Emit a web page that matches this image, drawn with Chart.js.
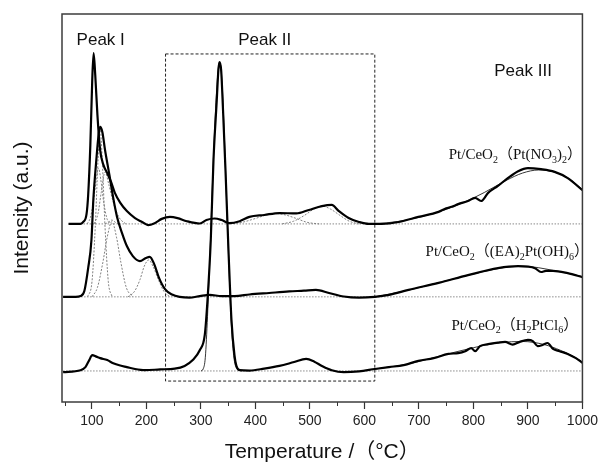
<!DOCTYPE html>
<html>
<head>
<meta charset="utf-8">
<script src="https://cdn.jsdelivr.net/npm/chart.js@4"></script>
<style>
  html, body { margin: 0; padding: 0; background: #fff; }
</style>
</head>
<body>
<canvas id="myChart" width="602" height="468"></canvas>
<script>
// axis
var majorTicks = [100, 200, 300, 400, 500, 600, 700, 800, 900, 1000];
var minorTicks = [50, 150, 250, 350, 450, 550, 650, 750, 850, 950];

// Pt/CeO2 (Pt(NO3)2) - top trace
var nitrateT = [57, 79, 84, 90, 93, 97, 100.5, 103, 106, 110, 115, 121, 128, 135, 142, 152, 164, 179, 192, 203, 215, 228, 243, 257, 274, 298, 310, 325, 338, 352, 371, 389, 416, 444, 475, 498, 522, 540, 553, 571, 590, 608, 632, 663, 699, 736, 750, 760, 772, 790, 803, 814, 827, 845, 863, 882, 900, 924, 949, 973, 1000];
var nitrateI = [45.9, 45.9, 46.4, 48.4, 53.3, 66.2, 83.0, 89.9, 84.3, 74.0, 64.9, 61.1, 59.0, 56.7, 53.9, 51.3, 49.2, 47.4, 46.4, 45.6, 46.1, 47.2, 47.7, 47.4, 46.6, 46.0, 46.9, 47.3, 46.9, 46.1, 46.6, 47.7, 48.2, 48.7, 48.6, 49.5, 50.5, 50.8, 49.2, 47.4, 46.4, 45.9, 45.9, 46.4, 47.7, 49.0, 49.9, 50.3, 51.0, 51.8, 52.6, 51.8, 53.9, 55.7, 57.7, 59.5, 60.3, 60.0, 59.3, 57.7, 54.6];

// Pt/CeO2 ((EA)2Pt(OH)6) - middle trace
var eaT = [47, 70, 79, 86, 93, 99, 102.5, 108, 112.5, 115, 119, 124, 132, 139, 146, 155, 164, 175, 188, 199, 206, 214, 223, 234, 247, 261, 279, 298, 316, 338, 362, 389, 425, 462, 489, 511, 535, 562, 590, 619, 645, 681, 736, 790, 845, 882, 900, 913, 924, 933, 946, 973, 1000];
var eaI = [27.1, 27.1, 27.3, 28.6, 34.5, 41.7, 52.1, 62.4, 69.3, 70.9, 69.6, 64.9, 58.5, 52.6, 47.7, 43.6, 40.2, 37.6, 36.3, 37.1, 37.4, 35.6, 32.0, 29.1, 27.7, 27.1, 26.9, 27.3, 27.6, 27.3, 27.3, 27.7, 28.1, 28.5, 28.7, 28.9, 28.1, 27.2, 26.9, 27.1, 27.6, 28.9, 30.7, 32.7, 34.5, 35.0, 34.9, 34.5, 33.5, 33.8, 33.8, 33.2, 32.2];

// Pt/CeO2 (H2PtCl6) - bottom trace
var chlorT = [47, 79, 88, 95, 100.5, 108, 115, 128, 139, 152, 164, 179, 197, 225, 252, 270, 285, 298, 307, 312, 318, 323, 329, 332, 334, 337, 340.5, 345, 350.5, 356, 361.5, 365, 371, 389, 416, 444, 471, 493, 508, 522, 540, 562, 590, 619, 645, 672, 699, 727, 754, 772, 785, 796, 803, 812, 827, 845, 858, 872, 885, 900, 909, 918, 927, 936, 946, 958, 973, 988, 1000];
var chlorI = [7.7, 8.2, 9.0, 10.8, 12.1, 11.7, 11.3, 10.8, 10.0, 9.4, 9.0, 8.5, 8.2, 8.4, 8.6, 9.3, 10.8, 13.4, 17.3, 26.3, 41.7, 62.4, 77.8, 85.6, 87.6, 85.6, 75.2, 59.8, 39.1, 21.1, 12.1, 9.3, 8.2, 8.1, 8.6, 9.3, 10.3, 11.1, 10.4, 9.3, 8.2, 7.7, 7.9, 8.5, 9.0, 9.5, 10.6, 11.3, 12.4, 12.6, 13.1, 13.9, 13.1, 14.4, 14.9, 15.3, 15.5, 14.8, 15.5, 16.0, 15.7, 14.4, 14.7, 15.2, 13.7, 13.1, 12.4, 11.3, 10.1];

// fitted envelopes (thin solid)
var fitPeak2T = [300, 304, 308, 312, 316, 320, 325, 330, 334, 338, 342, 346, 350, 355, 360, 366, 375];
var fitPeak2I = [8.0, 8.5, 11.5, 22, 36, 52, 70, 83, 87.6, 84, 72, 56, 40, 22, 12, 8.6, 8.0];
var fitHighNitrateT = [620, 660, 700, 740, 780, 820, 860, 890, 920, 950, 975, 1000];
var fitHighNitrateI = [45.9, 46.5, 47.6, 49.2, 51.3, 54.0, 57.1, 59.0, 59.8, 59.2, 57.6, 54.8];
var fitHighEaT = [620, 680, 740, 800, 850, 890, 920, 950, 980, 1000];
var fitHighEaI = [27.1, 28.8, 30.9, 33.0, 34.5, 35.0, 34.6, 33.8, 33.0, 32.3];
var fitHighChlorT = [620, 680, 740, 800, 850, 890, 930, 960, 985, 1000];
var fitHighChlorI = [8.5, 9.8, 11.9, 14.0, 15.3, 15.6, 14.8, 13.3, 11.6, 10.3];

// deconvoluted components (dotted)
var compAT = [91, 97, 103, 108, 112, 116, 121, 127, 133];
var compAI = [45.9, 47.5, 52, 57.5, 60.3, 57.5, 52, 47.5, 45.9];
var compBT = [104, 111, 117, 124, 131, 140, 150, 162];
var compBI = [45.9, 48.5, 54, 59.3, 56, 51, 47.5, 45.9];
var compCT = [124, 130, 136.5, 143, 150];
var compCI = [45.9, 46.3, 46.9, 46.3, 45.9];
var compDT = [352, 375, 400, 420, 437, 455, 475, 495, 517];
var compDI = [45.9, 46.3, 47.3, 48.2, 48.6, 48.2, 47.3, 46.3, 45.9];
var compET = [449, 470, 490, 507, 522, 538, 555, 572, 590];
var compEI = [45.9, 46.6, 48.1, 49.7, 50.5, 49.7, 48.1, 46.6, 45.9];
var compM1T = [92, 100, 106, 111, 115, 119, 124, 130, 137];
var compM1I = [27.1, 31, 45, 62, 70.5, 62, 45, 31, 27.1];
var compM2T = [100, 110, 120, 128, 136.5, 145, 153, 163, 175];
var compM2I = [27.1, 29.5, 36, 42.5, 46.5, 42.5, 36, 29.5, 27.1];
var compM3T = [166, 178, 188, 196, 204, 212, 222, 232, 243];
var compM3I = [27.1, 28.5, 31.5, 35, 36.6, 35, 31.5, 28.5, 27.1];

// baselines
var baseStartT = [57, 47, 47];
var baseLevel = [45.9, 27.1, 8.0];

// Peak II box
var boxT = [235, 619, 619, 235, 235];
var boxI = [89.7, 89.7, 5.4, 5.4, 89.7];

// labels
var peakNames = ['Peak I', 'Peak II', 'Peak III'];
var peakLabelT = [116, 417, 891];
var peakLabelI = [93.2, 93.2, 85.3];
var sampleLabels = [
    [['Pt/CeO', 0], ['2', 1], ['\uFF08Pt(NO', 0], ['3', 1], [')', 0], ['2', 1], ['\uFF09', 0]],
    [['Pt/CeO', 0], ['2', 1], ['\uFF08(EA)', 0], ['2', 1], ['Pt(OH)', 0], ['6', 1], ['\uFF09', 0]],
    [['Pt/CeO', 0], ['2', 1], ['\uFF08H', 0], ['2', 1], ['PtCl', 0], ['6', 1], ['\uFF09', 0]]
];
var sampleLabelT = [877, 862, 876];
var sampleLabelI = [62.6, 37.6, 18.6];

function pts(xs, ys) {
    return xs.map(function (v, i) { return {x: v, y: ys[i]}; });
}

function thick(d) {
    return {data: d, borderColor: '#000', borderWidth: 2.2, pointRadius: 0, fill: false, cubicInterpolationMode: 'monotone'};
}
function thin(d) {
    return {data: d, borderColor: '#000', borderWidth: 0.8, pointRadius: 0, fill: false, cubicInterpolationMode: 'monotone'};
}
function dotted(d) {
    return {data: d, borderColor: '#808080', borderWidth: 1, borderDash: [2, 1.5], pointRadius: 0, fill: false, cubicInterpolationMode: 'monotone'};
}

var SERIF = '"Liberation Serif", "Times New Roman", "Noto Sans CJK SC", serif';

function drawRich(ctx, parts, cx, by) {
    var mainFont = '15px ' + SERIF, subFont = '10px ' + SERIF;
    var w = 0;
    parts.forEach(function (p) {
        ctx.font = p[1] ? subFont : mainFont;
        w += ctx.measureText(p[0]).width;
    });
    var xx = cx - w / 2;
    ctx.textAlign = 'left';
    ctx.textBaseline = 'alphabetic';
    parts.forEach(function (p) {
        ctx.font = p[1] ? subFont : mainFont;
        ctx.fillText(p[0], xx, by + (p[1] ? 3.5 : 0));
        xx += ctx.measureText(p[0]).width;
    });
}

var extras = {
    id: 'extras',
    afterDraw: function (chart) {
        var ctx = chart.ctx, a = chart.chartArea, x = chart.scales.x, y = chart.scales.y;
        ctx.save();
        ctx.strokeStyle = '#333';
        ctx.lineWidth = 1;
        minorTicks.forEach(function (v) {
            var px = Math.round(x.getPixelForValue(v)) + 0.5;
            ctx.beginPath();
            ctx.moveTo(px, a.bottom);
            ctx.lineTo(px, a.bottom + 4);
            ctx.stroke();
        });
        ctx.strokeStyle = '#3c3c3c';
        ctx.lineWidth = 1.5;
        ctx.strokeRect(a.left, a.top, a.right - a.left, a.bottom - a.top);

        ctx.fillStyle = '#111';
        ctx.font = '17px "Liberation Sans", Arial, sans-serif';
        ctx.textAlign = 'center';
        ctx.textBaseline = 'middle';
        peakNames.forEach(function (t, i) {
            ctx.fillText(t, x.getPixelForValue(peakLabelT[i]), y.getPixelForValue(peakLabelI[i]));
        });
        sampleLabels.forEach(function (parts, i) {
            drawRich(ctx, parts, x.getPixelForValue(sampleLabelT[i]), y.getPixelForValue(sampleLabelI[i]));
        });
        ctx.restore();
    }
};

function loadChart() {
    var ctx = document.getElementById('myChart').getContext('2d');

    var datasets = [
        thick(pts(nitrateT, nitrateI)),
        thick(pts(eaT, eaI)),
        thick(pts(chlorT, chlorI)),
        thin(pts(fitPeak2T, fitPeak2I)),
        thin(pts(fitHighNitrateT, fitHighNitrateI)),
        thin(pts(fitHighEaT, fitHighEaI)),
        thin(pts(fitHighChlorT, fitHighChlorI)),
        dotted(pts(compAT, compAI)),
        dotted(pts(compBT, compBI)),
        dotted(pts(compCT, compCI)),
        dotted(pts(compDT, compDI)),
        dotted(pts(compET, compEI)),
        dotted(pts(compM1T, compM1I)),
        dotted(pts(compM2T, compM2I)),
        dotted(pts(compM3T, compM3I))
    ];
    baseLevel.forEach(function (lv, i) {
        datasets.push({
            data: [{x: baseStartT[i], y: lv}, {x: 1000, y: lv}],
            borderColor: '#8a8a8a', borderWidth: 1, borderDash: [1.5, 1.5], pointRadius: 0, fill: false
        });
    });
    datasets.push({
        data: pts(boxT, boxI),
        borderColor: '#222', borderWidth: 1, borderDash: [3, 2], pointRadius: 0, fill: false, tension: 0
    });

    new Chart(ctx, {
        type: 'line',
        data: {datasets: datasets},
        options: {
            responsive: false,
            animation: false,
            layout: {padding: {top: 14, right: 18, left: 0, bottom: 0}},
            plugins: {legend: {display: false}, tooltip: {enabled: false}},
            scales: {
                x: {
                    type: 'linear',
                    min: 45,
                    max: 1000,
                    afterBuildTicks: function (s) {
                        s.ticks = majorTicks.map(function (v) { return {value: v}; });
                    },
                    afterFit: function (s) { s.height = 66; },
                    border: {display: false},
                    grid: {drawOnChartArea: false, drawTicks: true, tickLength: 7, tickColor: '#333', tickWidth: 1.2},
                    ticks: {
                        padding: 4,
                        color: '#222',
                        font: {family: '"Liberation Sans", Arial, sans-serif', size: 14},
                        maxRotation: 0,
                        callback: function (v) { return String(v); }
                    },
                    title: {
                        display: true,
                        text: 'Temperature /\uFF08\u00B0C\uFF09',
                        color: '#111',
                        font: {family: '"Liberation Sans", Arial, "Noto Sans CJK SC", sans-serif', size: 21},
                        padding: {top: 0, bottom: 3}
                    }
                },
                y: {
                    type: 'linear',
                    min: 0,
                    max: 100,
                    afterFit: function (s) { s.width = 62; },
                    border: {display: false},
                    grid: {display: false},
                    ticks: {display: false},
                    title: {
                        display: true,
                        text: 'Intensity (a.u.)',
                        color: '#111',
                        font: {family: '"Liberation Sans", Arial, sans-serif', size: 21},
                        padding: {top: 10, bottom: 0}
                    }
                }
            }
        },
        plugins: [extras]
    });
}

loadChart();
</script>
</body>
</html>
